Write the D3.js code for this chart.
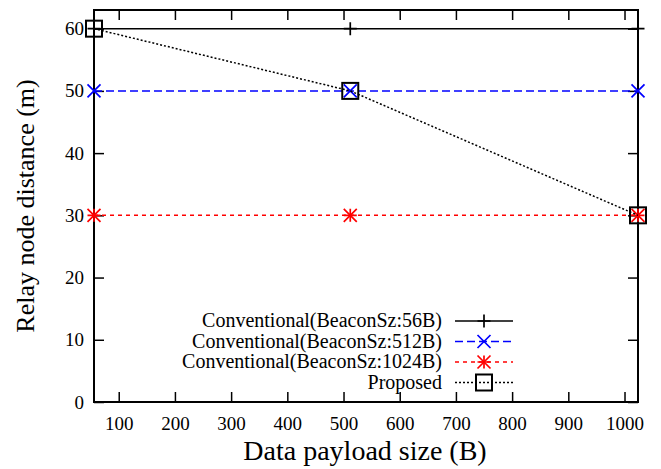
<!DOCTYPE html>
<html>
<head>
<meta charset="utf-8">
<script src="https://cdn.jsdelivr.net/npm/d3@7"></script>
<style>
body { margin: 0; background: #fff; }
</style>
</head>
<body>
<div id="chart"></div>
<script>
// data
var payload = [56, 512, 1024];
var conv56 = [60, 60, 60];
var conv512 = [50, 50, 50];
var conv1024 = [30, 30, 30];
var proposed = [60, 50, 30];
var seriesNames = ["Conventional(BeaconSz:56B)", "Conventional(BeaconSz:512B)", "Conventional(BeaconSz:1024B)", "Proposed"];
var xTicks = [100, 200, 300, 400, 500, 600, 700, 800, 900, 1000];
var yTicks = [0, 10, 20, 30, 40, 50, 60];

var FONT = "'Liberation Serif', 'Times New Roman', 'DejaVu Serif', serif";
var W = 661, H = 469;
var margin = { top: 10, right: 23, bottom: 67, left: 94 };
var w = W - margin.left - margin.right, h = H - margin.top - margin.bottom;

var svg = d3.select("#chart").append("svg")
    .attr("width", W).attr("height", H);
var g = svg.append("g")
    .attr("transform", "translate(" + margin.left + "," + margin.top + ")");

var x = d3.scaleLinear().domain([56, 1024]).range([0, w]);
var y = d3.scaleLinear().domain([0, 63]).range([h, 0]);

// axes, gnuplot style: ticks inside, mirrored
g.append("g").attr("transform", "translate(0," + h + ")")
    .call(d3.axisBottom(x).tickValues(xTicks).tickFormat(d3.format("d")).tickSizeInner(-10).tickSizeOuter(0).tickPadding(15));
g.append("g")
    .call(d3.axisTop(x).tickValues(xTicks).tickSizeInner(-10).tickSizeOuter(0).tickFormat(""));
g.append("g")
    .call(d3.axisLeft(y).tickValues(yTicks).tickSizeInner(-10).tickSizeOuter(0).tickPadding(10));
g.append("g").attr("transform", "translate(" + w + ",0)")
    .call(d3.axisRight(y).tickValues(yTicks).tickSizeInner(-10).tickSizeOuter(0).tickFormat(""));
g.selectAll(".domain").remove();
g.selectAll(".tick line").attr("stroke", "#000").attr("stroke-width", 1.5);
g.selectAll(".tick text").attr("font-size", 19).attr("fill", "#000")
    .attr("font-family", FONT);

g.append("rect").attr("width", w).attr("height", h)
    .attr("fill", "none").attr("stroke", "#000").attr("stroke-width", 2);

var line = d3.line().x(function (d) { return x(d[0]); }).y(function (d) { return y(d[1]); });

var series = [
    { vals: conv56, color: "#000", dash: null, marker: "plus" },
    { vals: conv512, color: "#0000ff", dash: "8,4", marker: "cross" },
    { vals: conv1024, color: "#ff0000", dash: "4,4", marker: "star" },
    { vals: proposed, color: "#000", dash: "2,2", marker: "box" }
];

function drawMarker(sel, type, color, cx, cy) {
    var s = 6.5, mg = sel.append("g").attr("transform", "translate(" + cx + "," + cy + ")")
        .attr("stroke", color).attr("stroke-width", 1.7).attr("fill", "none");
    if (type === "plus" || type === "star") {
        mg.append("path").attr("d", "M" + (-s) + ",0H" + s + "M0," + (-s) + "V" + s);
    }
    if (type === "cross" || type === "star") {
        mg.append("path").attr("d", "M" + (-s) + "," + (-s) + "L" + s + "," + s + "M" + (-s) + "," + s + "L" + s + "," + (-s));
    }
    if (type === "box") {
        mg.append("rect").attr("x", -8).attr("y", -8).attr("width", 16).attr("height", 16).attr("stroke-width", 2);
    }
}

series.forEach(function (s) {
    var pts = payload.map(function (p, i) { return [p, s.vals[i]]; });
    g.append("path").datum(pts).attr("d", line)
        .attr("fill", "none").attr("stroke", s.color).attr("stroke-width", 1.5)
        .attr("stroke-dasharray", s.dash);
    pts.forEach(function (p) { drawMarker(g, s.marker, s.color, x(p[0]), y(p[1])); });
});

// legend
var leg = svg.append("g");
series.forEach(function (s, i) {
    var ly = 321 + i * 20.5;
    leg.append("text").attr("x", 442).attr("y", ly + 6).attr("text-anchor", "end")
        .attr("font-family", FONT).attr("font-size", 20).text(seriesNames[i]);
    leg.append("line").attr("x1", 455).attr("x2", 513).attr("y1", ly).attr("y2", ly)
        .attr("stroke", s.color).attr("stroke-width", 1.5).attr("stroke-dasharray", s.dash);
    drawMarker(leg, s.marker, s.color, 484, ly);
});

// axis titles
svg.append("text").attr("x", 365).attr("y", 460).attr("text-anchor", "middle")
    .attr("font-family", FONT).attr("font-size", 28).text("Data payload size (B)");
svg.append("text").attr("transform", "translate(34,206) rotate(-90)").attr("text-anchor", "middle")
    .attr("font-family", FONT).attr("font-size", 26).text("Relay node distance (m)");
</script>
</body>
</html>
